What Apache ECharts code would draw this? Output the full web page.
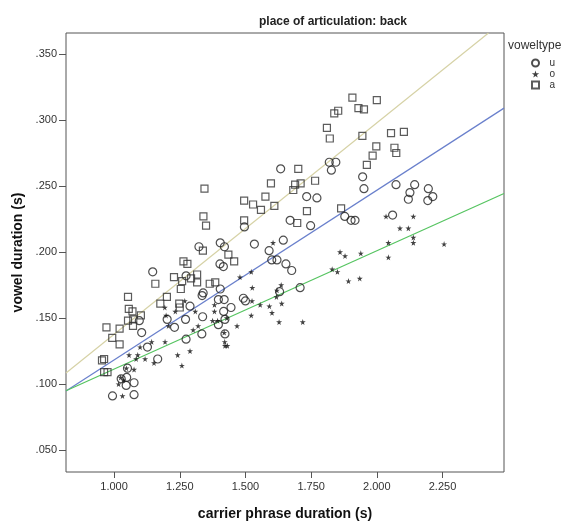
<!DOCTYPE html>
<html>
<head>
<meta charset="utf-8">
<script src="https://cdn.jsdelivr.net/npm/echarts@6/dist/echarts.min.js"></script>
<style>html,body{margin:0;padding:0;background:#fff}#c{width:572px;height:526px}</style>
</head>
<body>
<div id="c"></div>
<script>
// ---- data ----
const chartTitle = 'place of articulation: back';
const xName = 'carrier phrase duration (s)';
const yName = 'vowel duration (s)';
const legendTitle = 'voweltype';
const seriesNames = ['u', 'o', 'a'];
const xTicks = [1.0, 1.25, 1.5, 1.75, 2.0, 2.25];
const yTicks = [0.05, 0.10, 0.15, 0.20, 0.25, 0.30, 0.35];
const xRange = [0.817, 2.484];
const yRange = [0.0334, 0.3659];

const uPoints = [[1.634,.263],[1.496,.219],[1.670,.224],[1.323,.204],[1.404,.207],[1.420,.204],[1.534,.206],[1.644,.209],[1.590,.201],[1.403,.191],[1.416,.189],[1.600,.194],[1.620,.194],[1.654,.191],[1.676,.186],[1.147,.185],[1.274,.182],[1.404,.172],[1.630,.170],[1.339,.169],[1.335,.167],[1.397,.164],[1.419,.164],[1.492,.165],[1.500,.163],[1.289,.159],[1.445,.158],[1.417,.155],[1.096,.148],[1.202,.149],[1.272,.149],[1.337,.151],[1.230,.143],[1.397,.145],[1.422,.149],[1.105,.139],[1.334,.138],[1.422,.138],[1.274,.134],[1.127,.128],[1.166,.119],[1.051,.112],[1.048,.105],[1.027,.104],[1.076,.101],[1.046,.099],[0.994,.091],[1.076,.092],[1.819,.268],[1.844,.268],[1.827,.262],[1.946,.257],[1.951,.248],[2.073,.251],[2.144,.251],[2.126,.245],[2.120,.240],[2.196,.248],[2.213,.242],[2.194,.239],[1.733,.242],[1.772,.241],[1.878,.227],[1.902,.224],[1.917,.224],[1.748,.220],[2.060,.228],[1.708,.173]];

const oPoints = [[1.605,.207],[1.479,.181],[1.522,.185],[1.526,.173],[1.636,.175],[1.620,.171],[1.525,.163],[1.618,.166],[1.193,.158],[1.269,.163],[1.233,.155],[1.382,.160],[1.382,.155],[1.556,.160],[1.591,.159],[1.601,.154],[1.638,.161],[1.198,.152],[1.207,.144],[1.309,.155],[1.301,.141],[1.320,.144],[1.375,.148],[1.394,.148],[1.429,.150],[1.468,.144],[1.522,.152],[1.628,.147],[1.419,.139],[1.421,.132],[1.422,.129],[1.431,.129],[1.099,.128],[1.143,.132],[1.194,.132],[1.057,.122],[1.090,.122],[1.084,.119],[1.118,.119],[1.152,.116],[1.242,.122],[1.258,.114],[1.289,.125],[1.047,.112],[1.076,.111],[1.025,.105],[1.017,.100],[1.032,.091],[1.035,.103],[2.035,.227],[2.139,.227],[2.088,.218],[2.120,.218],[2.139,.211],[2.139,.207],[2.044,.207],[2.256,.206],[1.860,.200],[1.879,.197],[1.939,.199],[2.044,.196],[1.830,.187],[1.850,.185],[1.892,.178],[1.935,.180],[1.718,.147]];

const aPoints = [[1.344,.248],[1.597,.252],[1.576,.242],[1.495,.239],[1.529,.236],[1.559,.232],[1.610,.235],[1.340,.227],[1.350,.220],[1.495,.224],[1.338,.201],[1.435,.198],[1.264,.193],[1.279,.191],[1.457,.193],[1.157,.176],[1.228,.181],[1.259,.178],[1.293,.180],[1.316,.183],[1.316,.177],[1.254,.172],[1.364,.176],[1.385,.177],[1.053,.166],[1.201,.166],[1.056,.157],[1.070,.155],[1.176,.161],[1.248,.161],[1.250,.158],[1.053,.148],[1.073,.149],[1.102,.152],[1.072,.144],[0.971,.143],[1.021,.142],[0.993,.135],[1.021,.130],[0.962,.119],[0.954,.118],[0.962,.109],[0.975,.109],[1.907,.317],[2.000,.315],[1.838,.305],[1.853,.307],[1.930,.309],[1.951,.308],[1.810,.294],[1.821,.286],[2.054,.290],[2.103,.291],[1.945,.288],[1.998,.280],[2.067,.279],[2.074,.275],[1.984,.273],[1.962,.266],[1.701,.263],[1.710,.252],[1.689,.251],[1.682,.247],[1.765,.254],[1.864,.233],[1.734,.231],[1.697,.222]];

// fit lines (end points)
const fitU = [[0.817, 0.0947], [2.484, 0.309]];
const fitO = [[0.817, 0.0949], [2.484, 0.2443]];
const fitA = [[0.817, 0.1084], [2.425, 0.3659]];

// ---- chart ----
const FONT = "'Liberation Sans', Arial, sans-serif";
const starPath = 'path://M50,0 L61,35 L98,35 L68,57 L79,91 L50,70 L21,91 L32,57 L2,35 L39,35 Z';
const squarePath = 'path://M0,0 L10,0 L10,10 L0,10 Z';

const chart = echarts.init(document.getElementById('c'), null, {renderer: 'canvas'});
chart.setOption({
  animation: false,
  backgroundColor: '#fff',
  title: [
    {text: chartTitle, left: 333, top: 16, textAlign: 'center', padding: 0,
     textStyle: {fontFamily: FONT, fontSize: 12, fontWeight: 'bold', color: '#222'}},
    {text: legendTitle, left: 508, top: 40, padding: 0,
     textStyle: {fontFamily: FONT, fontSize: 12, fontWeight: 'normal', color: '#333'}}
  ],
  legend: {
    data: seriesNames,
    orient: 'vertical',
    left: 531, top: 58,
    itemWidth: 18, itemHeight: 7, itemGap: 1,
    symbolKeepAspect: true,
    padding: 0,
    textStyle: {fontFamily: FONT, fontSize: 10, lineHeight: 9, color: '#333'}
  },
  grid: {
    left: 66, right: 68, top: 33, bottom: 48,
    show: true, borderColor: '#555', borderWidth: 1, backgroundColor: 'transparent'
  },
  xAxis: {
    type: 'value', min: xRange[0], max: xRange[1],
    name: xName, nameLocation: 'middle', nameGap: 35,
    nameTextStyle: {fontFamily: FONT, fontSize: 14, fontWeight: 'bold', color: '#111'},
    axisLine: {show: false},
    splitLine: {show: false},
    axisTick: {show: true, length: 6, customValues: xTicks, lineStyle: {color: '#555'}},
    axisLabel: {customValues: xTicks, margin: 9, fontFamily: FONT, fontSize: 11, color: '#333',
      formatter: v => v.toFixed(3)}
  },
  yAxis: {
    type: 'value', min: yRange[0], max: yRange[1],
    name: yName, nameLocation: 'middle', nameGap: 41,
    nameTextStyle: {fontFamily: FONT, fontSize: 14, fontWeight: 'bold', color: '#111'},
    axisLine: {show: false},
    splitLine: {show: false},
    axisTick: {show: true, length: 7, customValues: yTicks, lineStyle: {color: '#555'}},
    axisLabel: {customValues: yTicks, margin: 9, fontFamily: FONT, fontSize: 11, color: '#333',
      formatter: v => v.toFixed(3).replace(/^0/, '')}
  },
  series: [
    {name: 'fit a', type: 'line', data: fitA, symbol: 'none', silent: true, clip: true,
     lineStyle: {color: '#d6d2a6', width: 1.2}, z: 1},
    {name: 'fit u', type: 'line', data: fitU, symbol: 'none', silent: true, clip: true,
     lineStyle: {color: '#6a80cc', width: 1.2}, z: 1},
    {name: 'fit o', type: 'line', data: fitO, symbol: 'none', silent: true, clip: true,
     lineStyle: {color: '#55c460', width: 1.2}, z: 1},
    {name: 'u', type: 'scatter', data: uPoints, symbol: 'circle', symbolSize: 8,
     itemStyle: {color: 'rgba(255,255,255,0)', borderColor: '#222', borderWidth: 1.2}, z: 3},
    {name: 'o', type: 'scatter', data: oPoints, symbol: starPath, symbolSize: 6,
     itemStyle: {color: '#111', borderWidth: 0}, z: 3},
    {name: 'a', type: 'scatter', data: aPoints, symbol: squarePath, symbolSize: 7,
     itemStyle: {color: 'rgba(255,255,255,0)', borderColor: '#333', borderWidth: 1.2}, z: 3}
  ]
});
</script>
</body>
</html>
